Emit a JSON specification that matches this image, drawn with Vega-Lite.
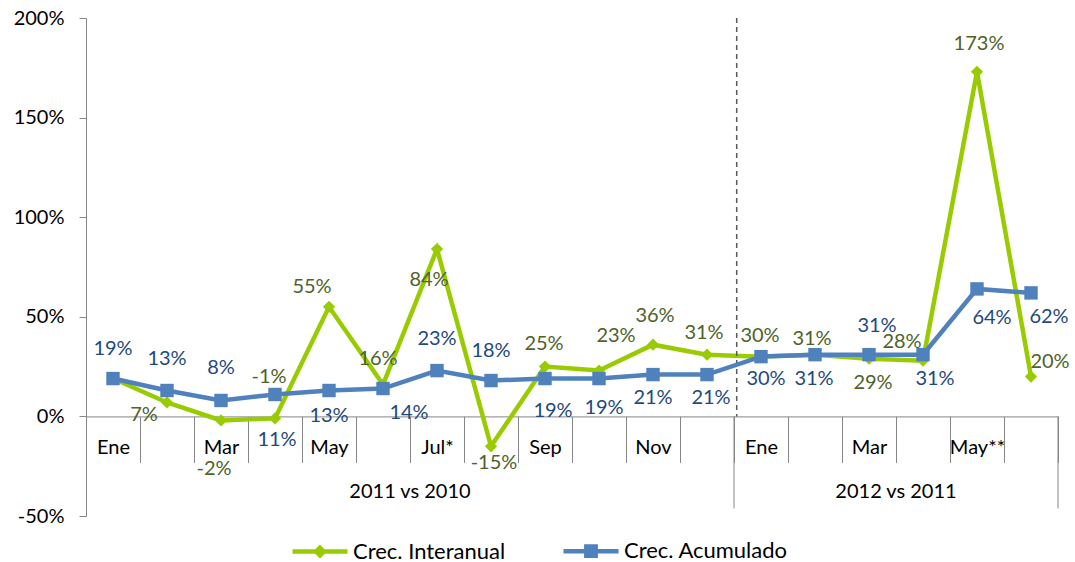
{
  "$schema": "https://vega.github.io/schema/vega-lite/v6.json",
  "width": 972,
  "height": 498,
  "autosize": {"type": "none"},
  "padding": {"left": 86, "top": 18, "right": 17, "bottom": 46},
  "background": "white",
  "config": {
    "font": "Lato",
    "view": {"stroke": null},
    "locale": {"number": {"decimal": ".", "thousands": ",", "grouping": [3], "currency": ["$", ""], "minus": "-"}}
  },
  "datasets": {
    "series": [
      {"mes": "Ene-11", "serie": "Crec. Interanual", "valor": 0.19},
      {"mes": "Feb-11", "serie": "Crec. Interanual", "valor": 0.07},
      {"mes": "Mar-11", "serie": "Crec. Interanual", "valor": -0.02},
      {"mes": "Abr-11", "serie": "Crec. Interanual", "valor": -0.01},
      {"mes": "May-11", "serie": "Crec. Interanual", "valor": 0.55},
      {"mes": "Jun-11", "serie": "Crec. Interanual", "valor": 0.16},
      {"mes": "Jul-11", "serie": "Crec. Interanual", "valor": 0.84},
      {"mes": "Ago-11", "serie": "Crec. Interanual", "valor": -0.15},
      {"mes": "Sep-11", "serie": "Crec. Interanual", "valor": 0.25},
      {"mes": "Oct-11", "serie": "Crec. Interanual", "valor": 0.23},
      {"mes": "Nov-11", "serie": "Crec. Interanual", "valor": 0.36},
      {"mes": "Dic-11", "serie": "Crec. Interanual", "valor": 0.31},
      {"mes": "Ene-12", "serie": "Crec. Interanual", "valor": 0.30},
      {"mes": "Feb-12", "serie": "Crec. Interanual", "valor": 0.31},
      {"mes": "Mar-12", "serie": "Crec. Interanual", "valor": 0.29},
      {"mes": "Abr-12", "serie": "Crec. Interanual", "valor": 0.28},
      {"mes": "May-12", "serie": "Crec. Interanual", "valor": 1.73},
      {"mes": "Jun-12", "serie": "Crec. Interanual", "valor": 0.20},
      {"mes": "Ene-11", "serie": "Crec. Acumulado", "valor": 0.19},
      {"mes": "Feb-11", "serie": "Crec. Acumulado", "valor": 0.13},
      {"mes": "Mar-11", "serie": "Crec. Acumulado", "valor": 0.08},
      {"mes": "Abr-11", "serie": "Crec. Acumulado", "valor": 0.11},
      {"mes": "May-11", "serie": "Crec. Acumulado", "valor": 0.13},
      {"mes": "Jun-11", "serie": "Crec. Acumulado", "valor": 0.14},
      {"mes": "Jul-11", "serie": "Crec. Acumulado", "valor": 0.23},
      {"mes": "Ago-11", "serie": "Crec. Acumulado", "valor": 0.18},
      {"mes": "Sep-11", "serie": "Crec. Acumulado", "valor": 0.19},
      {"mes": "Oct-11", "serie": "Crec. Acumulado", "valor": 0.19},
      {"mes": "Nov-11", "serie": "Crec. Acumulado", "valor": 0.21},
      {"mes": "Dic-11", "serie": "Crec. Acumulado", "valor": 0.21},
      {"mes": "Ene-12", "serie": "Crec. Acumulado", "valor": 0.30},
      {"mes": "Feb-12", "serie": "Crec. Acumulado", "valor": 0.31},
      {"mes": "Mar-12", "serie": "Crec. Acumulado", "valor": 0.31},
      {"mes": "Abr-12", "serie": "Crec. Acumulado", "valor": 0.31},
      {"mes": "May-12", "serie": "Crec. Acumulado", "valor": 0.64},
      {"mes": "Jun-12", "serie": "Crec. Acumulado", "valor": 0.62}
    ],
    "inicio2012": [{"mes": "Ene-12"}],
    "fin": [{"mes": "Jun-12"}],
    "grupos": [
      {"grupo": "2011 vs 2010", "mes": "Jul-11"},
      {"grupo": "2012 vs 2011", "mes": "Abr-12"}
    ]
  },
  "layer": [
    {
      "data": {"name": "series"},
      "transform": [{"filter": "datum.serie === 'Crec. Interanual'"}],
      "mark": {"type": "line", "strokeWidth": 4.5},
      "encoding": {
        "x": {
          "field": "mes", "type": "ordinal", "title": null,
          "scale": {"type": "band", "domain": ["Ene-11","Feb-11","Mar-11","Abr-11","May-11","Jun-11","Jul-11","Ago-11","Sep-11","Oct-11","Nov-11","Dic-11","Ene-12","Feb-12","Mar-12","Abr-12","May-12","Jun-12"], "paddingInner": 0, "paddingOuter": 0},
          "axis": {
            "orient": "bottom", "offset": -99.6, "title": null,
            "domainColor": "#868686", "domainWidth": 1,
            "tickBand": "extent", "tickSize": 46, "tickColor": "#868686", "tickWidth": 1,
            "labelFont": "Lato", "labelFontSize": 20, "labelColor": "#000000",
            "labelPadding": -25, "labelAngle": 0, "labelOverlap": false, "labelBound": false,
            "labelExpr": "['Ene','','Mar','','May','','Jul*','','Sep','','Nov','','Ene','','Mar','','May**',''][indexof(['Ene-11','Feb-11','Mar-11','Abr-11','May-11','Jun-11','Jul-11','Ago-11','Sep-11','Oct-11','Nov-11','Dic-11','Ene-12','Feb-12','Mar-12','Abr-12','May-12','Jun-12'], datum.value)]"
          }
        },
        "y": {
          "field": "valor", "type": "quantitative", "title": null,
          "scale": {"domain": [-0.5, 2], "nice": false, "zero": false},
          "axis": {
            "title": null, "values": [-0.5, 0, 0.5, 1, 1.5, 2], "format": ".0%", "grid": false,
            "domainColor": "#868686", "tickColor": "#868686", "tickSize": 7,
            "labelFont": "Lato", "labelFontSize": 20, "labelColor": "#000000", "labelPadding": 15
          }
        },
        "color": {
          "field": "serie", "type": "nominal",
          "scale": {"domain": ["Crec. Interanual", "Crec. Acumulado"], "range": ["#99CC00", "#4F81BD"]},
          "legend": {
            "orient": "none", "legendX": 204, "legendY": 503, "direction": "horizontal", "title": null,
            "labelFont": "Lato", "labelFontSize": 22, "labelColor": "#000000", "labelLimit": 400,
            "symbolSize": 3025, "symbolStrokeWidth": 4.5, "labelOffset": 3, "columnPadding": 48, "padding": 0,
            "encode": {"symbols": {"update": {
              "shape": {"signal": "datum.value === 'Crec. Interanual' ? 'M-1,0H1M0,-0.14L0.14,0L0,0.14L-0.14,0Z' : 'M-1,0H1M-0.17,-0.17H0.17V0.17H-0.17Z'"},
              "fill": {"signal": "scale('color', datum.value)"},
              "stroke": {"signal": "scale('color', datum.value)"},
              "strokeWidth": {"value": 4.5},
              "opacity": {"value": 1}
            }}}
          }
        }
      }
    },
    {
      "data": {"name": "inicio2012"},
      "mark": {"type": "rule", "color": "#595959", "strokeWidth": 1.5, "strokeDash": [5, 4]},
      "encoding": {
        "x": {"field": "mes", "type": "ordinal", "bandPosition": 0.05, "title": null},
        "y": {"datum": 2.0, "type": "quantitative", "title": null},
        "y2": {"datum": 0}
      }
    },
    {
      "data": {"name": "inicio2012"},
      "mark": {"type": "rule", "color": "#868686", "strokeWidth": 1},
      "encoding": {
        "x": {"field": "mes", "type": "ordinal", "bandPosition": 0, "title": null},
        "y": {"datum": 0, "type": "quantitative", "title": null},
        "y2": {"datum": -0.462}
      }
    },
    {
      "data": {"name": "fin"},
      "mark": {"type": "rule", "color": "#868686", "strokeWidth": 1},
      "encoding": {
        "x": {"field": "mes", "type": "ordinal", "bandPosition": 1, "title": null},
        "y": {"datum": 0, "type": "quantitative", "title": null},
        "y2": {"datum": -0.462}
      }
    },
    {
      "data": {"name": "grupos"},
      "mark": {"type": "text", "font": "Lato", "fontSize": 20, "color": "#000000", "baseline": "middle", "align": "center"},
      "encoding": {
        "x": {"field": "mes", "type": "ordinal", "bandPosition": 0, "title": null},
        "y": {"datum": -0.38, "type": "quantitative", "title": null},
        "text": {"field": "grupo"}
      }
    },
    {
      "data": {"name": "series"},
      "transform": [{"filter": "datum.serie === 'Crec. Interanual'"}],
      "mark": {"type": "point", "shape": "diamond", "filled": true, "size": 150, "color": "#99CC00", "opacity": 1},
      "encoding": {
        "x": {"field": "mes", "type": "ordinal", "title": null},
        "y": {"field": "valor", "type": "quantitative", "title": null}
      }
    },
    {
      "data": {"name": "series"},
      "transform": [{"filter": "datum.serie === 'Crec. Acumulado'"}],
      "mark": {"type": "line", "strokeWidth": 4.5},
      "encoding": {
        "x": {"field": "mes", "type": "ordinal", "title": null},
        "y": {"field": "valor", "type": "quantitative", "title": null},
        "color": {"field": "serie", "type": "nominal"}
      }
    },
    {
      "data": {"name": "series"},
      "transform": [{"filter": "datum.serie === 'Crec. Acumulado'"}],
      "mark": {"type": "point", "shape": "square", "filled": true, "size": 180, "color": "#4F81BD", "opacity": 1},
      "encoding": {
        "x": {"field": "mes", "type": "ordinal", "title": null},
        "y": {"field": "valor", "type": "quantitative", "title": null}
      }
    },
    {
      "data": {"name": "series"},
      "transform": [{"filter": "datum.serie === 'Crec. Interanual' && datum.mes !== 'Ene-11'"}],
      "mark": {
        "type": "text", "font": "Lato", "fontSize": 20, "color": "#4F6228", "baseline": "middle", "align": "center",
        "dx": {"expr": "[0,-23,-7,-6,-17,-5,-8,3,-1,17,2,-3,-1,-3,4,-21,2,19][indexof(['Ene-11','Feb-11','Mar-11','Abr-11','May-11','Jun-11','Jul-11','Ago-11','Sep-11','Oct-11','Nov-11','Dic-11','Ene-12','Feb-12','Mar-12','Abr-12','May-12','Jun-12'], datum.mes)]"},
        "dy": {"expr": "[0,13,49,-41,-20,-26,31,17,-23,-35,-29,-22,-21,-16,24,-19,-28,-15][indexof(['Ene-11','Feb-11','Mar-11','Abr-11','May-11','Jun-11','Jul-11','Ago-11','Sep-11','Oct-11','Nov-11','Dic-11','Ene-12','Feb-12','Mar-12','Abr-12','May-12','Jun-12'], datum.mes)]"}
      },
      "encoding": {
        "x": {"field": "mes", "type": "ordinal", "title": null},
        "y": {"field": "valor", "type": "quantitative", "title": null},
        "text": {"field": "valor", "type": "quantitative", "format": ".0%"}
      }
    },
    {
      "data": {"name": "series"},
      "transform": [{"filter": "datum.serie === 'Crec. Acumulado'"}],
      "mark": {
        "type": "text", "font": "Lato", "fontSize": 20, "color": "#1F497D", "baseline": "middle", "align": "center",
        "dx": {"expr": "[0,0,0,2,0,26,0,0,8,5,0,4,5,-1,8,12,15,18][indexof(['Ene-11','Feb-11','Mar-11','Abr-11','May-11','Jun-11','Jul-11','Ago-11','Sep-11','Oct-11','Nov-11','Dic-11','Ene-12','Feb-12','Mar-12','Abr-12','May-12','Jun-12'], datum.mes)]"},
        "dy": {"expr": "[-30,-32,-32,46,25,24,-32,-30,32,29,23,23,22,24,-29,24,29,24][indexof(['Ene-11','Feb-11','Mar-11','Abr-11','May-11','Jun-11','Jul-11','Ago-11','Sep-11','Oct-11','Nov-11','Dic-11','Ene-12','Feb-12','Mar-12','Abr-12','May-12','Jun-12'], datum.mes)]"}
      },
      "encoding": {
        "x": {"field": "mes", "type": "ordinal", "title": null},
        "y": {"field": "valor", "type": "quantitative", "title": null},
        "text": {"field": "valor", "type": "quantitative", "format": ".0%"}
      }
    }
  ]
}
